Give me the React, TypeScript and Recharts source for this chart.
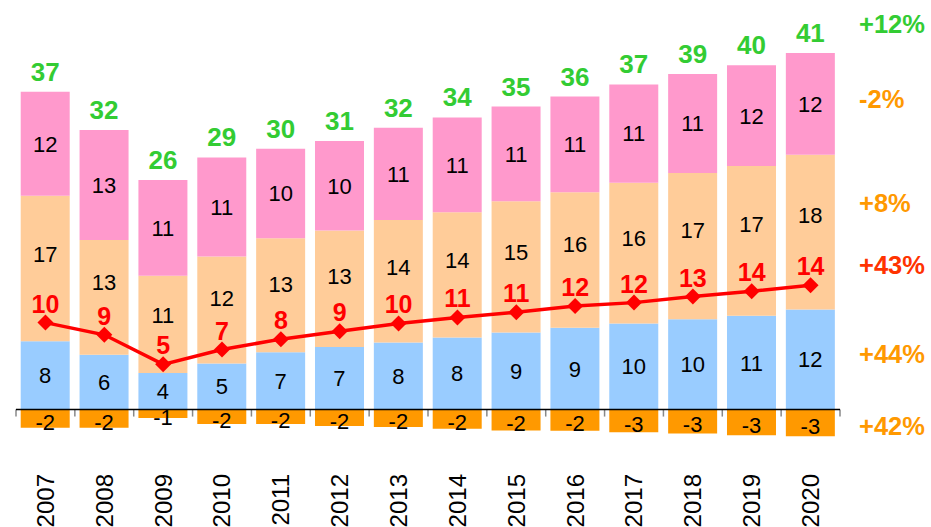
import { ComposedChart, Bar, Line, XAxis, YAxis, LabelList, ReferenceLine } from 'recharts';

const years = ['2007', '2008', '2009', '2010', '2011', '2012', '2013', '2014', '2015', '2016', '2017', '2018', '2019', '2020'];
const blueVals = [7.85, 6.3, 4.2, 5.3, 6.6, 7.2, 7.7, 8.3, 8.85, 9.4, 9.9, 10.4, 10.8, 11.5];
const peachVals = [16.75, 13.2, 11.2, 12.3, 13.1, 13.4, 14.1, 14.4, 15.1, 15.6, 16.2, 16.8, 17.2, 17.8];
const pinkVals = [11.95, 12.64, 11.0, 11.4, 10.3, 10.3, 10.6, 10.9, 10.9, 11.0, 11.3, 11.4, 11.6, 11.7];
const orangeVals = [-2.1, -2.1, -0.96, -1.65, -1.65, -1.9, -2.0, -2.2, -2.4, -2.45, -2.6, -2.76, -2.95, -3.07];
const lineVals = [10.0, 8.6, 5.2, 6.9, 8.1, 9.0, 9.9, 10.6, 11.2, 11.9, 12.3, 13.0, 13.6, 14.3];
const totals = [37, 32, 26, 29, 30, 31, 32, 34, 35, 36, 37, 39, 40, 41];

const growthLabels = ['+12%', '-2%', '+8%', '+43%', '+44%', '+42%'];
const growthColors = ['#33CC33', '#FF9900', '#FF9900', '#FF3300', '#FF9900', '#FF9900'];

const data = years.map((year, i) => ({
  year,
  blue: blueVals[i],
  peach: peachVals[i],
  pink: pinkVals[i],
  orange: orangeVals[i],
  line: lineVals[i],
  total: totals[i],
}));

const FONT = '"Liberation Sans", Arial, sans-serif';
const round = (v: any) => Math.round(Number(v));

const Diamond = (props: any) => {
  const { cx, cy } = props;
  if (cx == null || cy == null) return null;
  const r = 8;
  return <polygon points={`${cx},${cy - r} ${cx + r},${cy} ${cx},${cy + r} ${cx - r},${cy}`} fill="#FF0000" />;
};

// label in the middle of a bar segment, with a small vertical nudge
const segLabel = (dy: number) => (props: any) => {
  const vb = props.viewBox ?? props;
  const { x, y, width, height } = vb;
  const top = Math.min(y, y + height);
  const h = Math.abs(height);
  return (
    <text x={x + width / 2} y={top + h / 2 + dy} dy="0.36em" textAnchor="middle" fontSize={22} fontFamily={FONT} fill="#000">
      {round(props.value)}
    </text>
  );
};

// peach labels sit between the segment top and the red line
const peachLabel = (props: any) => {
  const vb = props.viewBox ?? props;
  const { x, y, width, height } = vb;
  const i = props.index;
  const pxPerUnit = height / peachVals[i];
  const linePx = y + height - (lineVals[i] - blueVals[i]) * pxPerUnit;
  const cy = (y + linePx) / 2 - 5;
  return (
    <text x={x + width / 2} y={cy} dy="0.36em" textAnchor="middle" fontSize={22} fontFamily={FONT} fill="#000">
      {round(props.value)}
    </text>
  );
};

const YearTick = (props: any) => {
  const { x, y, payload } = props;
  const ty = y + 26;
  return (
    <text
      x={x}
      y={ty}
      transform={`rotate(-90, ${x}, ${ty})`}
      textAnchor="end"
      dy="0.35em"
      fontSize={24}
      fontFamily={FONT}
      fill="#000"
    >
      {payload.value}
    </text>
  );
};

const ZeroAxis = (props: any) => {
  const { x1, x2, y1 } = props;
  const n = years.length;
  const step = (x2 - x1) / n;
  const ticks = Array.from({ length: n + 1 }, (_, i) => x1 + i * step);
  return (
    <g>
      {ticks.map((tx, i) => (
        <line key={i} x1={tx} x2={tx} y1={y1} y2={y1 + 7} stroke="#888" strokeWidth={1.5} />
      ))}
      <line x1={x1} x2={x2} y1={y1} y2={y1} stroke="#000" strokeWidth={1.5} />
    </g>
  );
};

const noteY = [33, 108, 212, 274, 363, 435];

export default function App() {
  return (
    <div style={{ position: 'absolute', left: 0, top: 0, width: 931, height: 527, background: '#fff' }}>
      <ComposedChart
        width={931}
        height={527}
        data={data}
        stackOffset="sign"
        barCategoryGap="8%"
        margin={{ top: 27, right: 91, bottom: 0, left: 16 }}
      >
        <XAxis dataKey="year" axisLine={false} tickLine={false} interval={0} height={87} tick={<YearTick />} />
        <YAxis hide domain={[-3.5, 44]} allowDataOverflow />
        <Bar dataKey="blue" stackId="a" fill="#99CCFF" isAnimationActive={false}>
          <LabelList dataKey="blue" content={segLabel(0)} />
        </Bar>
        <Bar dataKey="peach" stackId="a" fill="#FFCC99" isAnimationActive={false}>
          <LabelList dataKey="peach" content={peachLabel} />
        </Bar>
        <Bar dataKey="pink" stackId="a" fill="#FF99CC" isAnimationActive={false}>
          <LabelList dataKey="pink" content={segLabel(0)} />
          <LabelList dataKey="total" position="top" offset={11} fill="#33CC33" fontSize={26} fontWeight="bold" fontFamily={FONT} />
        </Bar>
        <Bar dataKey="orange" stackId="a" fill="#FF9900" isAnimationActive={false}>
          <LabelList dataKey="orange" content={segLabel(3)} />
        </Bar>
        <ReferenceLine y={0} shape={<ZeroAxis />} />
        <Line
          dataKey="line"
          type="linear"
          stroke="#FF0000"
          strokeWidth={3.5}
          dot={<Diamond />}
          activeDot={false}
          isAnimationActive={false}
        >
          <LabelList dataKey="line" position="top" offset={10} formatter={round} fill="#FF0000" fontSize={25} fontWeight="bold" fontFamily={FONT} />
        </Line>
      </ComposedChart>
      <svg width={931} height={527} style={{ position: 'absolute', left: 0, top: 0, pointerEvents: 'none' }}>
        {growthLabels.map((t, i) => (
          <text key={t} x={859} y={noteY[i]} fill={growthColors[i]} fontSize={25.5} fontWeight="bold" fontFamily={FONT}>
            {t}
          </text>
        ))}
      </svg>
    </div>
  );
}
